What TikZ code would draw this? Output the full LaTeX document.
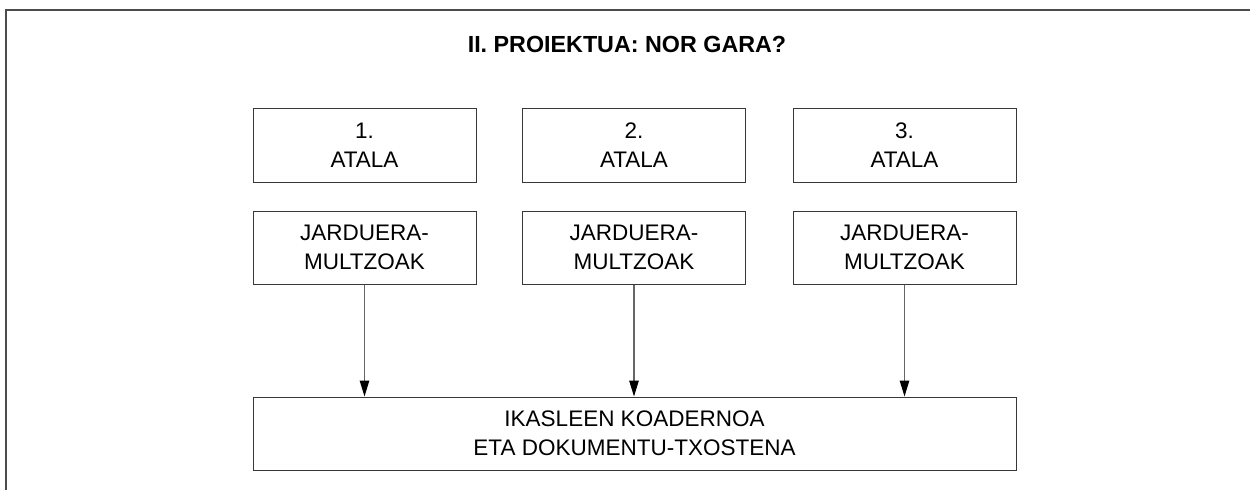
\documentclass[tikz,border=0pt]{standalone}
\usepackage{fontspec}
\setmainfont{Liberation Sans}
\usetikzlibrary{arrows.meta}
\tikzset{
  box/.style={draw=black!78, line width=1pt, minimum width=223pt, minimum height=74pt,
    inner sep=0pt, align=center, font=\fontsize{22.5}{29}\selectfont},
  wide/.style={box, minimum width=763pt, minimum height=73pt},
  conn/.style={draw=black!60, line width=1.2pt, -{Triangle[length=16pt,width=9.5pt,black]}},
  frame/.style={draw=black!70, line width=1.3pt}
}
\begin{document}
\begin{tikzpicture}[x=1pt,y=-1pt]
\useasboundingbox (0,0) rectangle (1250,490);
\draw[frame] (6,490) -- (6,10) -- (1250,10);
\node[anchor=base, font=\fontsize{23.3}{28}\selectfont\bfseries] (title) at (627,52) {II. PROIEKTUA: NOR GARA?};
\node[box] (a1) at (364.5,145) {1.\\ATALA};
\node[box] (a2) at (634,145) {2.\\ATALA};
\node[box] (a3) at (904.5,145) {3.\\ATALA};
\node[box, minimum height=73pt] (j1) at (364.5,247.5) {JARDUERA-\\MULTZOAK};
\node[box, minimum height=73pt] (j2) at (634,247.5) {JARDUERA-\\MULTZOAK};
\node[box, minimum height=73pt] (j3) at (904.5,247.5) {JARDUERA-\\MULTZOAK};
\node[wide] (k) at (634.5,433.5) {IKASLEEN KOADERNOA\\ETA DOKUMENTU-TXOSTENA};
\draw[conn] (j1.south) -- (j1.south |- k.north);
\draw[conn] (j2.south) -- (j2.south |- k.north);
\draw[conn] (j3.south) -- (j3.south |- k.north);
\end{tikzpicture}
\end{document}
